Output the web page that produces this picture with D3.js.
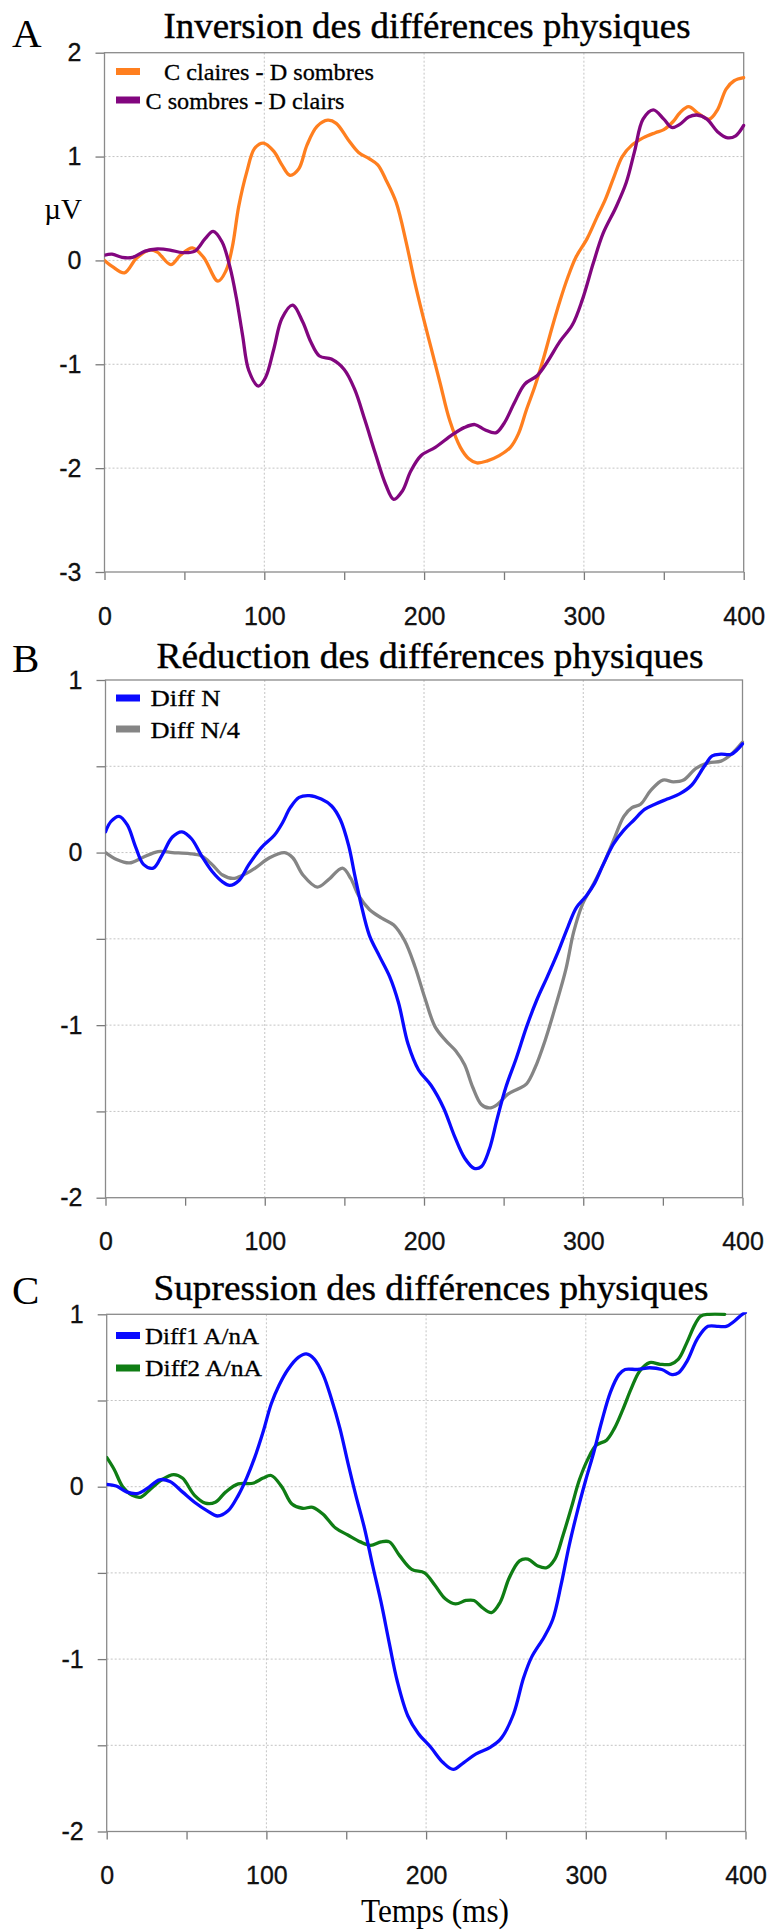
<!DOCTYPE html>
<html>
<head>
<meta charset="utf-8">
<script src="https://cdn.jsdelivr.net/npm/d3@7"></script>
<style>
  html, body { margin: 0; padding: 0; background: #fff; }
  svg { display: block; }
</style>
</head>
<body>
<svg id="chart" width="771" height="1930"></svg>
<script>
// ---------------- DATA ----------------
const xTicks = [0, 50, 100, 150, 200, 250, 300, 350, 400];
const xLabelTicks = [0, 100, 200, 300, 400];
const yTicksA = [-3, -2, -1, 0, 1, 2];
const yTicksB = [-2, -1.5, -1, -0.5, 0, 0.5, 1];
const yTicksC = [-2, -1.5, -1, -0.5, 0, 0.5, 1];

const titles = ["Inversion des différences physiques", "Réduction des différences physiques", "Supression des différences physiques"];
const panelLetters = ["A", "B", "C"];
const legendA = ["C claires - D sombres", "C sombres - D clairs"];
const legendB = ["Diff N", "Diff N/4"];
const legendC = ["Diff1 A/nA", "Diff2 A/nA"];

// [time (ms), amplitude (µV)]
const cClairesDSombres = [[0,0],[5,-0.06],[12.5,-0.12],[20,0.02],[28,0.10],[33,0.08],[41.5,-0.04],[47.5,0.05],[55,0.12],[62,0.03],[71,-0.2],[76,-0.1],[80,0.13],[84,0.52],[89,0.85],[94,1.08],[99.4,1.13],[106,1.05],[111,0.92],[116,0.82],[121.5,0.88],[126.7,1.11],[133,1.29],[139.7,1.35],[145,1.32],[152.6,1.16],[159,1.04],[165.6,0.98],[171,0.92],[176,0.78],[182.5,0.56],[189,0.16],[194,-0.2],[199,-0.52],[204.5,-0.85],[210,-1.18],[216,-1.54],[222.7,-1.80],[228,-1.91],[233,-1.95],[239.6,-1.93],[247,-1.88],[254,-1.80],[259,-1.67],[264,-1.44],[269.4,-1.21],[274.6,-0.95],[280,-0.65],[285,-0.39],[290,-0.16],[295,0.03],[302,0.21],[308,0.41],[313.5,0.59],[318.7,0.80],[324,1.0],[330,1.11],[337,1.18],[344.7,1.23],[350,1.26],[356,1.34],[360,1.42],[365.5,1.48],[372,1.41],[378.5,1.36],[383.6,1.45],[389,1.65],[394,1.73],[400,1.76]];
const cSombresDClairs = [[0,0.05],[4.7,0.06],[11,0.03],[17.6,0.03],[25.4,0.09],[33,0.11],[41,0.10],[48.8,0.075],[56.6,0.09],[63,0.21],[68,0.28],[73.5,0.18],[78.6,-0.07],[82.5,-0.36],[86.4,-0.72],[90.3,-1.06],[96.3,-1.21],[100.7,-1.13],[106,-0.85],[111,-0.56],[117.6,-0.43],[124,-0.59],[129,-0.78],[134.5,-0.92],[142,-0.95],[150,-1.05],[156.5,-1.24],[163,-1.54],[169.5,-1.86],[176,-2.16],[181,-2.30],[186.4,-2.22],[191.6,-2.03],[198,-1.88],[207,-1.80],[217.5,-1.68],[225,-1.61],[231.8,-1.58],[238,-1.63],[244.8,-1.66],[250,-1.57],[256.5,-1.37],[263,-1.19],[270.7,-1.11],[277,-0.98],[285,-0.78],[292.8,-0.62],[299,-0.38],[305.8,-0.03],[312,0.26],[320,0.51],[326.5,0.75],[331.7,1.05],[337,1.36],[343.4,1.45],[350,1.36],[355,1.28],[360,1.31],[365.5,1.38],[370.7,1.40],[377,1.36],[383.6,1.24],[390,1.18],[395,1.20],[400,1.30]];

const diffN = [[0,0.12],[3.4,0.18],[8.5,0.21],[13.7,0.16],[19,0.03],[24,-0.07],[30,-0.09],[35.8,-0.01],[42,0.09],[48,0.12],[54,0.08],[60.4,-0.02],[67,-0.11],[73.5,-0.17],[78,-0.19],[84,-0.16],[90,-0.07],[98,0.03],[106,0.10],[111,0.17],[116,0.26],[121.6,0.32],[128,0.33],[135.5,0.31],[142,0.27],[147.5,0.19],[152.7,0.04],[156.5,-0.13],[160.5,-0.30],[165.7,-0.48],[172,-0.60],[178.5,-0.72],[184,-0.87],[190,-1.11],[196.6,-1.26],[204.5,-1.35],[212.3,-1.48],[219,-1.64],[225.5,-1.77],[231.5,-1.83],[236,-1.82],[241,-1.72],[246,-1.54],[251.4,-1.36],[258,-1.19],[264.4,-1.01],[271,-0.85],[277.4,-0.72],[284,-0.58],[290.4,-0.43],[295.6,-0.32],[302,-0.25],[307,-0.18],[312.5,-0.07],[319,0.05],[325.5,0.13],[332,0.19],[338.5,0.25],[345,0.28],[352.7,0.31],[360.5,0.34],[368,0.39],[376,0.5],[381,0.56],[386.5,0.57],[393,0.57],[400,0.63]];
const diffN4 = [[0,0],[7,-0.04],[15,-0.06],[23,-0.03],[33,0.006],[42,0],[52.7,-0.006],[60.4,-0.02],[67,-0.07],[73.5,-0.13],[80,-0.15],[86.5,-0.13],[94,-0.09],[103,-0.03],[112.5,0],[117.6,-0.03],[124,-0.13],[133,-0.20],[139.7,-0.16],[148.8,-0.09],[154,-0.15],[159,-0.25],[165.7,-0.33],[173.5,-0.38],[181,-0.42],[187.8,-0.51],[194.3,-0.66],[200.8,-0.85],[207,-1.01],[213.7,-1.09],[220,-1.15],[225.5,-1.23],[230.6,-1.36],[236,-1.46],[241,-1.48],[246,-1.46],[252.7,-1.40],[259,-1.37],[264.4,-1.34],[269.6,-1.25],[276,-1.09],[282.6,-0.89],[289,-0.68],[294,-0.46],[299.5,-0.30],[306,-0.19],[312.5,-0.07],[319,0.07],[325.5,0.21],[330.6,0.26],[336,0.28],[342.4,0.36],[350,0.42],[356.6,0.41],[363,0.42],[371,0.49],[378.7,0.52],[386.5,0.53],[393,0.57],[400,0.64]];

const diff1 = [[0,0.014],[6,0.004],[12.4,-0.03],[19,-0.04],[25.4,-0.01],[33,0.04],[39.6,0.03],[47.4,-0.03],[55,-0.09],[63,-0.14],[69.4,-0.17],[76,-0.14],[82.4,-0.05],[87.6,0.05],[92.7,0.17],[98,0.32],[103,0.48],[108,0.59],[113.5,0.68],[120,0.75],[125,0.77],[130,0.74],[135.5,0.65],[140.7,0.51],[146,0.34],[151,0.14],[156,-0.05],[161.4,-0.24],[166.6,-0.46],[171.8,-0.67],[177,-0.91],[182,-1.13],[188.6,-1.33],[195,-1.43],[202.8,-1.51],[210.6,-1.60],[217,-1.64],[223.6,-1.60],[231.3,-1.55],[240.4,-1.51],[247,-1.46],[254.7,-1.32],[261,-1.11],[266,-0.99],[274,-0.87],[279.3,-0.77],[284.5,-0.57],[289.6,-0.34],[294.8,-0.14],[300,0.04],[305,0.20],[310,0.38],[315.5,0.55],[320.7,0.65],[324.6,0.68],[332.4,0.68],[340,0.69],[347.6,0.68],[354,0.65],[358,0.66],[363.5,0.73],[370,0.86],[376.5,0.93],[383,0.93],[388,0.93],[393,0.96],[398,1.0],[400,1.01]];
const diff2 = [[0,0.17],[4.7,0.10],[10,0],[16,-0.05],[21.5,-0.06],[26.7,-0.02],[34.5,0.04],[42,0.07],[47.4,0.05],[55,-0.05],[61.7,-0.095],[68,-0.09],[74.6,-0.03],[82.4,0.016],[91.5,0.02],[98,0.05],[103,0.065],[109.6,0],[116,-0.10],[122.5,-0.125],[129,-0.12],[135.5,-0.16],[143.3,-0.24],[151,-0.28],[158.8,-0.32],[165.3,-0.34],[171.8,-0.32],[177,-0.32],[183.4,-0.40],[191,-0.48],[199,-0.50],[205.4,-0.57],[212,-0.65],[218.4,-0.68],[225,-0.66],[230,-0.66],[235,-0.70],[241,-0.73],[246.4,-0.67],[252,-0.53],[258.5,-0.43],[263.7,-0.42],[270,-0.46],[275.4,-0.47],[280.6,-0.42],[285.8,-0.28],[291,-0.12],[296,0.04],[301.3,0.16],[306.5,0.24],[313,0.27],[318,0.34],[323.3,0.45],[328.5,0.57],[333.7,0.67],[340,0.72],[346.6,0.71],[353,0.71],[358,0.74],[363,0.83],[368.3,0.94],[372,0.99],[377,1.0],[387,1.0]];

const colors = { orange: "#ff7f1f", purple: "#82067f", blue: "#0a0aff", gray: "#858585", green: "#0f7d14" };

// ---------------- LAYOUT (options) ----------------
const panels = [
  { letter: panelLetters[0], letterY: 47, title: titles[0], titleX: 427, titleY: 38, titleLen: 527,
    x0: 104.5, x1: 743.7, yTop: 52.7, yBot: 572, yDomain: [-3, 2], yTicks: yTicksA, showMu: true,
    series: [ { data: cClairesDSombres, color: colors.orange, name: legendA[0], ly: 71.5, tx: 164, tb: 80, tl: 210 },
              { data: cSombresDClairs, color: colors.purple, name: legendA[1], ly: 100, tx: 145.5, tb: 109, tl: 199 } ] },
  { letter: panelLetters[1], letterY: 672, title: titles[1], titleX: 430, titleY: 668, titleLen: 547,
    x0: 105.5, x1: 742.5, yTop: 680, yBot: 1197.7, yDomain: [-2, 1], yTicks: yTicksB, showMu: false,
    series: [ { data: diffN4, color: colors.gray, name: legendB[1], ly: 729, tx: 150.5, tb: 737.5, tl: 89.5 },
              { data: diffN, color: colors.blue, name: legendB[0], ly: 698, tx: 150.5, tb: 706, tl: 70 } ] },
  { letter: panelLetters[2], letterY: 1304, title: titles[2], titleX: 431, titleY: 1300, titleLen: 555,
    x0: 106.7, x1: 745.5, yTop: 1314.3, yBot: 1831.5, yDomain: [-2, 1], yTicks: yTicksC, showMu: false, xTitle: "Temps (ms)",
    series: [ { data: diff2, color: colors.green, name: legendC[1], ly: 1368, tx: 145, tb: 1376, tl: 117 },
              { data: diff1, color: colors.blue, name: legendC[0], ly: 1335.5, tx: 145, tb: 1343.5, tl: 114 } ] }
];

const svg = d3.select("#chart");
const serif = "'Liberation Serif', 'Times New Roman', serif";
const sans = "'Liberation Sans', Arial, sans-serif";

panels.forEach((p, i) => {
  const x = d3.scaleLinear().domain([0, 400]).range([p.x0, p.x1]);
  const y = d3.scaleLinear().domain(p.yDomain).range([p.yBot, p.yTop]);
  const g = svg.append("g");

  // panel letter & title
  g.append("text").attr("x", 12).attr("y", p.letterY).attr("font-family", serif)
    .attr("font-size", 41).attr("fill", "#000").text(p.letter);
  g.append("text").attr("x", p.titleX).attr("y", p.titleY).attr("text-anchor", "middle")
    .attr("font-family", serif).attr("font-size", 36).attr("fill", "#000")
    .attr("stroke", "#000").attr("stroke-width", 0.4)
    .attr("textLength", p.titleLen).attr("lengthAdjust", "spacingAndGlyphs").text(p.title);

  // grid
  g.append("g").selectAll("line.v").data([100, 200, 300]).join("line")
    .attr("x1", d => x(d)).attr("x2", d => x(d)).attr("y1", p.yTop).attr("y2", p.yBot)
    .attr("stroke", "#c4c4c4").attr("stroke-width", 1).attr("stroke-dasharray", "2,2");
  g.append("g").selectAll("line.h").data(p.yTicks.filter(d => d > p.yDomain[0] && d < p.yDomain[1])).join("line")
    .attr("x1", p.x0).attr("x2", p.x1).attr("y1", d => y(d)).attr("y2", d => y(d))
    .attr("stroke", "#c4c4c4").attr("stroke-width", 1).attr("stroke-dasharray", "2,2");

  // axes
  const yAxis = d3.axisLeft(y).tickValues(p.yTicks)
    .tickFormat(d => Number.isInteger(d) ? String(d) : "")
    .tickSize(9).tickSizeOuter(0).tickPadding(14);
  const ya = g.append("g").attr("transform", `translate(${p.x0},0)`).call(yAxis);
  const xAxis = d3.axisBottom(x).tickValues(xTicks)
    .tickFormat(d => xLabelTicks.includes(d) ? d : "")
    .tickSize(8).tickSizeOuter(0).tickPadding(27);
  const xa = g.append("g").attr("transform", `translate(0,${p.yBot})`).call(xAxis);
  [ya, xa].forEach(a => {
    a.select(".domain").remove();
    a.selectAll(".tick line").attr("stroke", "#7a7a7a").attr("stroke-width", 1.3);
    a.selectAll(".tick text").attr("font-family", sans).attr("font-size", 25).attr("fill", "#111")
      .attr("stroke", "#111").attr("stroke-width", 0.3);
  });
  ya.selectAll(".tick text").text(d => Number.isInteger(d) ? (d < 0 ? "-" + Math.abs(d) : d) : "");

  // frame
  g.append("rect").attr("x", p.x0).attr("y", p.yTop).attr("width", p.x1 - p.x0).attr("height", p.yBot - p.yTop)
    .attr("fill", "none").attr("stroke", "#8a8a8a").attr("stroke-width", 1.3);

  // clip + lines
  const clipId = "clip" + i;
  svg.append("clipPath").attr("id", clipId).append("rect")
    .attr("x", p.x0).attr("y", p.yTop - 2).attr("width", p.x1 - p.x0 + 2).attr("height", p.yBot - p.yTop + 4);
  const line = d3.line().x(d => x(d[0])).y(d => y(d[1])).curve(d3.curveCatmullRom.alpha(0.5));
  const lg = g.append("g").attr("clip-path", `url(#${clipId})`);
  p.series.forEach(s => {
    lg.append("path").datum(s.data).attr("d", line).attr("fill", "none")
      .attr("stroke", s.color).attr("stroke-width", 3.3).attr("stroke-linejoin", "round").attr("stroke-linecap", "round");
  });

  // legend
  p.series.forEach(s => {
    g.append("rect").attr("x", 116).attr("y", s.ly - 3.5).attr("width", 24).attr("height", 7).attr("fill", s.color);
    g.append("text").attr("x", s.tx).attr("y", s.tb).attr("font-family", serif).attr("font-size", 24)
      .attr("fill", "#000").attr("stroke", "#000").attr("stroke-width", 0.3)
      .attr("textLength", s.tl).attr("lengthAdjust", "spacingAndGlyphs").text(s.name);
  });

  if (p.showMu) {
    g.append("text").attr("x", 82).attr("y", 219).attr("text-anchor", "end")
      .attr("font-family", serif).attr("font-size", 29).attr("fill", "#000").text("µV");
  }
  if (p.xTitle) {
    g.append("text").attr("x", 435).attr("y", 1922).attr("text-anchor", "middle")
      .attr("font-family", serif).attr("font-size", 33).attr("fill", "#000")
      .attr("textLength", 148).attr("lengthAdjust", "spacingAndGlyphs").text(p.xTitle);
  }
});
</script>
</body>
</html>
